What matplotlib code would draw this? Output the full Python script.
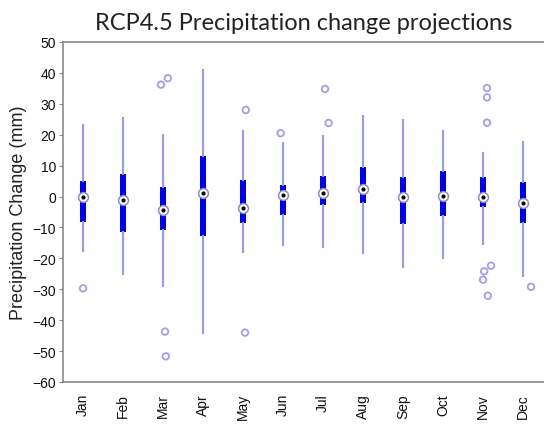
import matplotlib
matplotlib.use("Agg")
import matplotlib.pyplot as plt

months = ["Jan", "Feb", "Mar", "Apr", "May", "Jun",
          "Jul", "Aug", "Sep", "Oct", "Nov", "Dec"]

# box statistics (mm)
whisker_hi = [23, 25.3, 19.9, 41, 21.3, 17.2, 19.7, 26, 24.9, 21.1, 14, 17.5]
q3 = [5.1, 7.3, 3, 13, 5.3, 3.8, 6.7, 9.4, 6.2, 8.4, 6.4, 4.6]
median = [-0.3, -1.1, -4.4, 1.0, -3.7, 0.6, 1.1, 2.4, 0, 0.3, 0, -2.1]
q1 = [-8.2, -11.4, -10.8, -12.7, -8.4, -5.9, -2.8, -2.1, -8.9, -6.4, -3.5, -8.6]
whisker_lo = [-17.5, -25.1, -28.9, -44, -17.9, -15.6, -16.4, -18.3, -22.7, -19.9, -15.2, -25.6]

# outliers: month index, value, horizontal jitter
outlier_month = [1, 3, 3, 3, 3, 5, 5, 6, 7, 7, 11, 11, 11, 11, 11, 11, 11, 12]
outlier_value = [-29.7, 36.2, 38.3, -43.7, -51.7, 28, -44, 20.5, 34.8, 23.8,
                 35.1, 32.1, 23.9, -22.4, -24.2, -26.9, -32.1, -29.2]
outlier_jitter = [0, -0.05, 0.12, 0.05, 0.07, 0.07, 0.05, -0.06, 0.05, 0.14,
                  0.1, 0.1, 0.1, 0.2, 0.03, 0, 0.12, 0.2]

stats = []
for i, m in enumerate(months):
    stats.append({"label": m, "whislo": whisker_lo[i], "q1": q1[i],
                  "med": median[i], "q3": q3[i], "whishi": whisker_hi[i],
                  "fliers": []})

fig = plt.figure(figsize=(5.44, 4.27), dpi=100)
ax = fig.add_axes([63 / 544, 1 - 383 / 427, 1 - 63 / 544, 340 / 427])

pos = list(range(1, 13))
ax.bxp(stats, positions=pos, widths=0.17, patch_artist=True,
       showcaps=False, showfliers=False,
       boxprops=dict(facecolor="#0000f0", edgecolor="none"),
       whiskerprops=dict(color="#9a9af5", linewidth=1.5),
       medianprops=dict(linewidth=0))

ax.scatter(pos, median, s=50, facecolor="white", edgecolor="#8c8cc8",
           linewidth=1.1, zorder=4)
ax.scatter(pos, median, s=4, color="black", zorder=5)

ox = [m + j for m, j in zip(outlier_month, outlier_jitter)]
ax.scatter(ox, outlier_value, s=22, facecolor="none", edgecolor="#a49cf0",
           linewidth=1.3, zorder=3)

ax.set_xlim(0.5, 12.525)
ax.set_ylim(-60, 50)
ax.set_yticks(range(-60, 51, 10))
ax.set_xticks(pos)
ax.set_xticklabels(months, rotation=90)

for s in ["top", "left", "bottom"]:
    ax.spines[s].set_color("#8a8a8a")
    ax.spines[s].set_linewidth(1.2)
ax.spines["right"].set_visible(False)
ax.tick_params(axis="x", length=0, pad=8)
ax.tick_params(axis="y", length=3, color="#8a8a8a", pad=2)
for lab in ax.get_xticklabels() + ax.get_yticklabels():
    lab.set_fontfamily("Liberation Sans")
    lab.set_fontsize(10)
    lab.set_color("#111111")

ax.set_ylabel("Precipitation Change (mm)", fontfamily="Liberation Sans",
              fontsize=13, color="#222222", labelpad=4)
ax.set_title("RCP4.5 Precipitation change projections", fontfamily="Lato",
             fontsize=17, color="#222222", pad=9)

fig.savefig("out.png", dpi=100)
